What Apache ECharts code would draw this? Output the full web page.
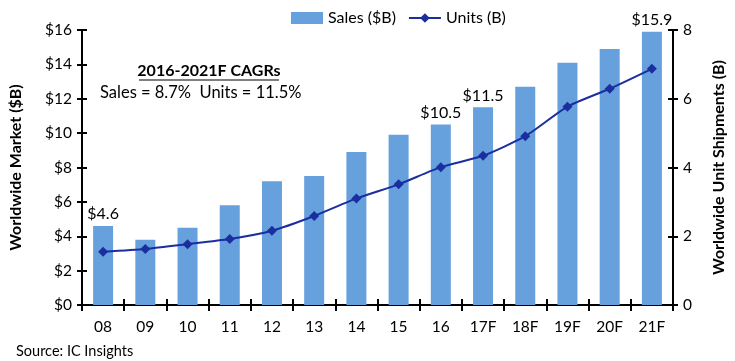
<!DOCTYPE html>
<html><head><meta charset="utf-8">
<script src="https://cdn.jsdelivr.net/npm/echarts@6/dist/echarts.min.js"></script>
<style>html,body{margin:0;padding:0;background:#fff}#c{width:735px;height:361px}</style>
</head><body><div id="c"></div>
<script>
const categories = ['08','09','10','11','12','13','14','15','16','17F','18F','19F','20F','21F'];
const salesB = [4.6, 3.8, 4.5, 5.8, 7.2, 7.5, 8.9, 9.9, 10.5, 11.5, 12.7, 14.1, 14.9, 15.9];
const unitsB = [1.55, 1.63, 1.77, 1.92, 2.16, 2.59, 3.1, 3.51, 4.01, 4.34, 4.91, 5.77, 6.29, 6.87];
const labeledBars = ['08','16','17F','21F'];
const leftTicks = [0,2,4,6,8,10,12,14,16];
const rightTicks = [0,2,4,6,8];

const FONT = 'Lato, "Open Sans", sans-serif';
const chart = echarts.init(document.getElementById('c'), null, {renderer:'canvas'});
const axisLine = {show:true, lineStyle:{color:'#000', width:2}};
const barData = salesB.map((v,i)=>({
  value:v,
  label:{show: labeledBars.includes(categories[i])}
}));
chart.setOption({
  animation:false,
  backgroundColor:'#fff',
  textStyle:{fontFamily:FONT},
  legend:{
    top:5, left:286, itemGap:12, itemWidth:32, itemHeight:12,
    textStyle:{fontFamily:FONT, fontSize:16, color:'#000'},
    data:[{name:'Sales ($B)', icon:'rect'}, {name:'Units (B)'}]
  },
  grid:{left:79, right:57, top:30, bottom:56},
  xAxis:[{
    type:'category', data:categories, boundaryGap:true,
    axisLine:axisLine,
    axisTick:{show:true, inside:false, length:6, lineStyle:{color:'#000', width:2}},
    axisLabel:{fontFamily:FONT, fontSize:15.5, color:'#000', margin:14}
  },{
    type:'category', data:categories, position:'bottom', boundaryGap:true,
    axisLine:{show:false},
    axisTick:{show:true, inside:true, length:6, lineStyle:{color:'#000', width:2}},
    axisLabel:{show:false}
  }],
  yAxis:[{
    type:'value', min:0, max:16, interval:2, position:'left',
    name:'Worldwide Market ($B)', nameLocation:'middle', nameGap:58, nameRotate:90,
    nameTextStyle:{fontFamily:FONT, fontSize:16, fontWeight:'bold', color:'#000'},
    axisLine:axisLine,
    axisTick:{show:true, length:5, lineStyle:{color:'#000', width:2}},
    splitLine:{show:false},
    axisLabel:{fontFamily:FONT, fontSize:15.5, color:'#000', margin:10, formatter:v=>'$'+v}
  },{
    type:'value', min:0, max:8, interval:2, position:'right',
    name:'Worldwide Unit Shipments (B)', nameLocation:'middle', nameGap:38, nameRotate:90,
    nameTextStyle:{fontFamily:FONT, fontSize:16, fontWeight:'bold', color:'#000'},
    axisLine:axisLine,
    axisTick:{show:true, length:5, lineStyle:{color:'#000', width:2}},
    splitLine:{show:false},
    axisLabel:{fontFamily:FONT, fontSize:15.5, color:'#000', margin:10}
  },{
    type:'value', min:0, max:16, interval:2, position:'left',
    axisLine:{show:false}, axisTick:{show:true, inside:true, length:5, lineStyle:{color:'#000', width:2}},
    splitLine:{show:false}, axisLabel:{show:false}
  },{
    type:'value', min:0, max:8, interval:2, position:'right',
    axisLine:{show:false}, axisTick:{show:true, inside:true, length:5, lineStyle:{color:'#000', width:2}},
    splitLine:{show:false}, axisLabel:{show:false}
  }],
  series:[{
    name:'Sales ($B)', type:'bar', xAxisIndex:0, yAxisIndex:0, data:barData, barWidth:20,
    itemStyle:{color:'#66A1DD'},
    label:{position:'top', distance:4, fontFamily:FONT, fontSize:16, color:'#000', formatter:p=>'$'+p.value}
  },{
    name:'Units (B)', type:'line', xAxisIndex:0, yAxisIndex:1, data:unitsB, smooth:0.2,
    symbol:'diamond', symbolSize:10,
    lineStyle:{color:'#1A2EA0', width:2}, itemStyle:{color:'#1A2EA0'}
  }],
  graphic:[
    {type:'text', x:209, y:71, style:{text:'2016-2021F CAGRs', fontFamily:FONT, fontSize:16, fontWeight:'bold', fill:'#000', align:'center', verticalAlign:'middle'}},
    {type:'line', shape:{x1:139, y1:80, x2:279, y2:80}, style:{stroke:'#000', lineWidth:1.2}},
    {type:'text', x:100, y:93, style:{text:'Sales = 8.7%  Units = 11.5%', fontFamily:FONT, fontSize:16.5, fill:'#000', verticalAlign:'middle'}},
    {type:'text', x:16, y:351, style:{text:'Source: IC Insights', fontFamily:FONT, fontSize:14.5, fill:'#000', verticalAlign:'middle'}}
  ]
});
</script></body></html>
